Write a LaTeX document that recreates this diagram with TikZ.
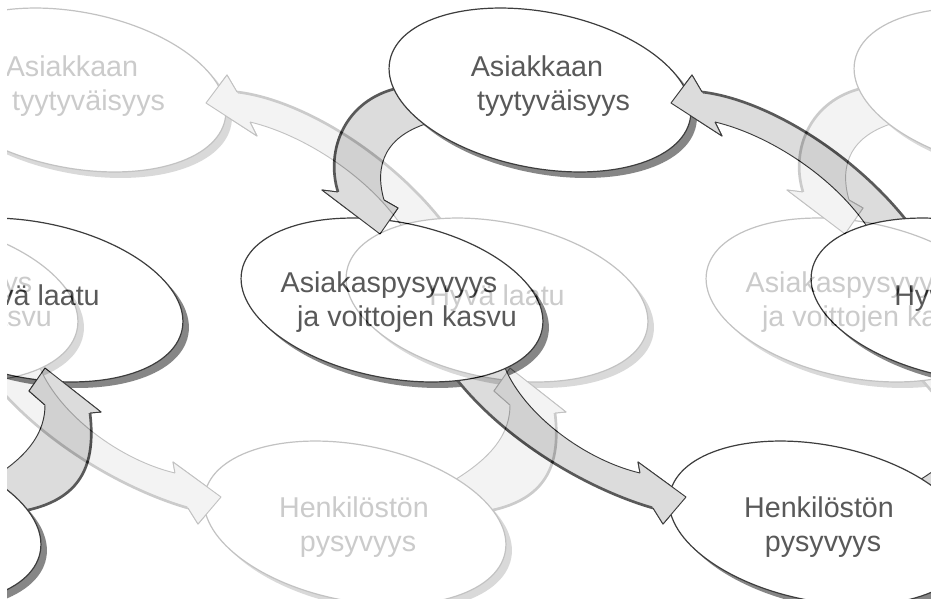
\documentclass[tikz,border=0pt]{standalone}
\usepackage{fontspec}
\setmainfont{Liberation Sans}
\usetikzlibrary{shapes.geometric}
\tikzset{
  ellbox/.style={ellipse, draw=black, line width=0.9pt, fill=white, minimum width=229.5pt, minimum height=117pt, inner sep=0pt, rotate=-11},
  ellshadow/.style={ellipse, fill=black!62, minimum width=229.5pt, minimum height=117pt, inner sep=0pt, rotate=-11},
  blockarrow/.style={fill=black!18, draw=black, line width=0.7pt, line join=round},
  outeredge/.style={draw=black!85, line width=2pt},
  headfill/.style={fill=black!18},
  headline/.style={draw=black, line width=0.7pt, line join=round},
  lbl/.style={font=\fontsize{21.5}{26}\selectfont, text=black!85, align=center, inner sep=0pt},
}
\newcommand\cyclepic[2]{%
\begin{scope}[shift={(#2,0)}]
 % ellipse shadows
 \node[ellshadow] (#1As) at (546,96) {};
 \node[ellshadow] (#1Bs) at (398,306) {};
 \node[ellshadow] (#1Cs) at (826,529) {};
 \node[ellshadow] (#1Ds) at (968,306) {};
 % block arrows
 \path[blockarrow] (918,236) .. controls (865,160) and (770,100) .. (702,92) -- (692,75) -- (671,103) -- (722,136) -- (715,122) .. controls (770,135) and (840,180) .. (873,236) -- cycle;
 \draw[outeredge] (918,236) .. controls (865,160) and (770,100) .. (702,92);
 \path[blockarrow] (398,88) .. controls (345,100) and (325,150) .. (338,192) -- (322,190) -- (380,234) -- (398,208) -- (384,200) .. controls (374,165) and (385,135) .. (432,122) -- (430,95) -- cycle;
 \draw[outeredge] (398,88) .. controls (345,100) and (325,150) .. (338,192);
 \path[blockarrow] (505,368) .. controls (525,415) and (585,460) .. (640,473) -- (638,462) -- (686,497) -- (663,524) -- (653,508) .. controls (590,490) and (500,440) .. (448,368) -- cycle;
 \draw[outeredge] (653,508) .. controls (590,490) and (500,440) .. (448,368);
 \path[blockarrow] (890,497) .. controls (930,475) and (975,450) .. (975,405) -- (959,391) -- (975,368) -- (1031,412) -- (1020,413) .. controls (1028,480) and (1000,515) .. (905,515) -- cycle;
 \draw[outeredge] (1020,413) .. controls (1028,480) and (1000,515) .. (905,515);
 % ellipses
 \node[ellbox] (#1A) at (540,90) {};
 \node[ellbox] (#1B) at (392,300) {};
 \node[ellbox] (#1C) at (820,523) {};
 \node[ellbox] (#1D) at (962,300) {};
 % arrow heads on top
 \path[headfill] (702,92) -- (692,75) -- (671,103) -- (722,136) -- (715,122) -- cycle;
 \draw[headline] (702,92) -- (692,75) -- (671,103) -- (722,136) -- (715,122);
 \path[headfill] (338,192) -- (322,190) -- (380,234) -- (398,208) -- (384,200) -- cycle;
 \draw[headline] (338,192) -- (322,190) -- (380,234) -- (398,208) -- (384,200);
 \path[headfill] (640,473) -- (638,462) -- (686,497) -- (663,524) -- (653,508) -- cycle;
 \draw[headline] (640,473) -- (638,462) -- (686,497) -- (663,524) -- (653,508);
 \path[headfill] (975,405) -- (959,391) -- (975,368) -- (1031,412) -- (1020,413) -- cycle;
 \draw[headline] (975,405) -- (959,391) -- (975,368) -- (1031,412) -- (1020,413);
 % labels
 \node[lbl] (#1At) at (537,86) {Asiakkaan\hspace{24.75pt}\\\hspace{24.75pt}tyytyväisyys};
 \node[lbl] (#1Bt) at (389,302) {Asiakaspysyvyys\hspace{27pt}\\\hspace{27pt}ja voittojen kasvu};
 \node[lbl] (#1Ct) at (819,527) {Henkilöstön\hspace{6pt}\\\hspace{6pt}pysyvyys};
 \node[lbl] (#1Dt) at (962,298) {Hyvä laatu};
\end{scope}}
\begin{document}
\begin{tikzpicture}[x=0.75pt,y=-0.75pt]
\useasboundingbox (0,0) rectangle (931,601);
\fill[white] (0,0) rectangle (931,601);
\begin{scope}
 \clip (7,0) rectangle (931,598);
 \cyclepic{fl}{-465}
 \cyclepic{fr}{465}
 \begin{scope}[transparency group, opacity=0.76]
  \fill[white] (0,0) rectangle (931,601);
  \cyclepic{dc}{0}
  \cyclepic{dl}{-930}
 \end{scope}
\end{scope}
\end{tikzpicture}
\end{document}
